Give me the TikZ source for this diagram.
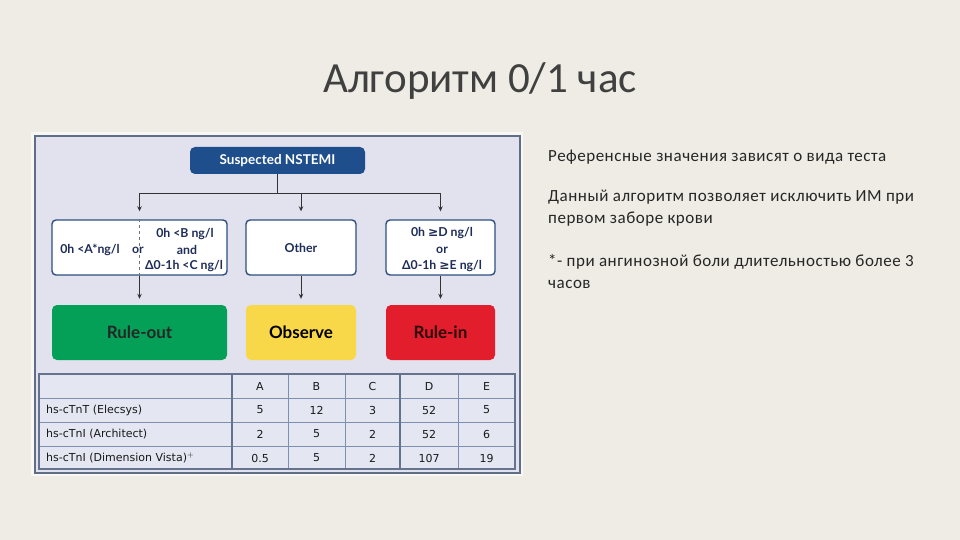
\documentclass[tikz,border=0pt]{standalone}
\usepackage{fontspec}
\setmainfont{Carlito}
\newfontfamily\diag{Lato}
\newfontfamily\tbl{DejaVu Sans}
\newfontfamily\sym{DejaVu Sans}
\newfontfamily\rfont[LetterSpace=3]{Carlito}
\usetikzlibrary{arrows.meta}
\definecolor{bgc}{HTML}{EEECE4}
\definecolor{panelc}{HTML}{E1E2EE}
\definecolor{panelb}{HTML}{5E6E86}
\definecolor{navy}{HTML}{1F4E8C}
\definecolor{boxb}{HTML}{2D4F80}
\definecolor{txtn}{HTML}{1E2D5A}
\definecolor{greenc}{HTML}{05A057}
\definecolor{yellc}{HTML}{F8D848}
\definecolor{redc}{HTML}{E21E2D}
\definecolor{gridc}{HTML}{7E90B2}
\definecolor{tblc}{HTML}{E4E6F1}
\definecolor{titlec}{HTML}{404040}
\newcommand{\gesym}{{\sym\bfseries ≥}}
\tikzset{
  x=1pt,y=-1pt,
  line/.style={draw=black!80, line width=0.9pt},
  arr/.style={line, -{Stealth[length=5pt,width=4.5pt]}},
  critbox/.style={draw=boxb, line width=1.4pt, fill=white, rounded corners=4pt, minimum height=55pt, inner sep=0pt},
  resbox/.style={rounded corners=5pt, minimum height=55pt, inner sep=0pt, font=\diag\bfseries\fontsize{17}{19}\selectfont},
  crit/.style={text=txtn, font=\diag\bfseries\fontsize{12.3}{14}\selectfont, inner sep=1pt},
  cell/.style={font=\tbl\fontsize{11}{13}\selectfont, text=black!90, inner sep=0pt},
  rtext/.style={anchor=base west, font=\rfont\fontsize{17}{19}\selectfont, text=black!85, inner sep=0pt},
}
\begin{document}
\begin{tikzpicture}
\useasboundingbox (0,0) rectangle (960,540);
\fill[bgc] (0,0) rectangle (960,540);
% title
\node[font=\fontsize{43}{45}\selectfont, text=titlec] (title) at (480,81) {Алгоритм 0/1 час};
% panel
\fill[white!60!bgc] (31,132) rectangle (523,476);
\draw[panelb, fill=panelc, line width=1.2pt] (35,136) rectangle (520,473);
% top box
\node[fill=navy, rounded corners=5pt, minimum width=175pt, minimum height=27pt, text=white, font=\diag\bfseries\fontsize{13.5}{15}\selectfont] (nstemi) at (277.5,160.5) {Suspected NSTEMI};
% criteria boxes
\node[critbox, minimum width=175pt] (cl) at (139.5,247.5) {};
\node[critbox, minimum width=110pt] (cm) at (301,247.5) {};
\node[critbox, minimum width=109pt] (cr) at (440.5,247.5) {};
% result boxes
\node[resbox, fill=greenc, minimum width=175pt, text=black!85] (ro) at (139.5,332.5) {Rule-out};
\node[resbox, fill=yellc, minimum width=110pt, text=black] (ob) at (301,332.5) {Observe};
\node[resbox, fill=redc, minimum width=109pt, text=black!80!redc] (ri) at (440.5,332.5) {Rule-in};
% connectors
\coordinate (split) at (277.5,193);
\coordinate (hl) at (139.5,193);
\coordinate (hm) at (301,193);
\coordinate (hr) at (440.5,193);
\draw[line] (nstemi.south) -- (split);
\draw[line] (hl) -- (hr);
\draw[arr, shorten >=8pt] (hl) -- (cl.north);
\draw[arr, shorten >=8pt] (hm) -- (cm.north);
\draw[arr, shorten >=8pt] (hr) -- (cr.north);
\draw[arr, shorten >=6pt] (cl.south) -- (ro.north);
\draw[arr, shorten >=6pt] (cm.south) -- (ob.north);
\draw[arr, shorten >=6pt] (cr.south) -- (ri.north);
% criteria text
\draw[black!55, dashed, line width=0.6pt] (cl.north) -- (cl.south);
\node[crit] (ta) at (90,250) {0h <A*ng/l};
\node[crit, fill=white] (tor) at (138,250) {or};
\node[crit] (tb) at (185,234) {0h <B ng/l};
\node[crit] (tand) at (187,250) {and};
\node[crit] (tc) at (184,266) {Δ0-1h <C ng/l};
\node[crit] (tmid) at (301,248) {Other};
\node[crit] (td) at (442,233) {0h \gesym D ng/l};
\node[crit] (tor2) at (442,250) {or};
\node[crit] (te) at (442,266) {Δ0-1h \gesym E ng/l};
% table
\fill[tblc] (39,374) rectangle (515,469);
\foreach \yy in {398,422,446} \draw[gridc, line width=0.9pt] (39,\yy) -- (515,\yy);
\foreach \xx in {288,345,458} \draw[gridc, line width=0.9pt] (\xx,374) -- (\xx,469);
\foreach \xx in {232,400} \draw[gridc!80!black, line width=1.6pt] (\xx,374) -- (\xx,469);
\draw[gridc!80!black, line width=1.6pt] (39,374) rectangle (515,469);
\node[cell] (hA) at (260,386) {A};
\node[cell] (hB) at (316.5,386) {B};
\node[cell] (hC) at (372.5,386) {C};
\node[cell] (hD) at (429,386) {D};
\node[cell] (hE) at (486.5,386) {E};
\node[cell, anchor=west] (r1) at (46,410) {hs-cTnT (Elecsys)};
\node[cell, anchor=west] (r2) at (46,434) {hs-cTnI (Architect)};
\node[cell, anchor=west] (r3) at (46,458) {hs-cTnI (Dimension Vista)$^{+}$};
\node[cell] (a1) at (260,410) {5};
\node[cell] (b1) at (316.5,410) {12};
\node[cell] (c1) at (372.5,410) {3};
\node[cell] (d1) at (429,410) {52};
\node[cell] (e1) at (486.5,410) {5};
\node[cell] (a2) at (260,434) {2};
\node[cell] (b2) at (316.5,434) {5};
\node[cell] (c2) at (372.5,434) {2};
\node[cell] (d2) at (429,434) {52};
\node[cell] (e2) at (486.5,434) {6};
\node[cell] (a3) at (260,458) {0.5};
\node[cell] (b3) at (316.5,458) {5};
\node[cell] (c3) at (372.5,458) {2};
\node[cell] (d3) at (429,458) {107};
\node[cell] (e3) at (486.5,458) {19};
% right text
\node[rtext] (l1) at (548,161) {Референсные значения зависят о вида теста};
\node[rtext] (l2) at (548,201) {Данный алгоритм позволяет исключить ИМ при};
\node[rtext] (l3) at (548,223) {первом заборе крови};
\node[rtext] (l4) at (548,266) {*- при ангинозной боли длительностью более 3};
\node[rtext] (l5) at (548,288) {часов};
\end{tikzpicture}
\end{document}
